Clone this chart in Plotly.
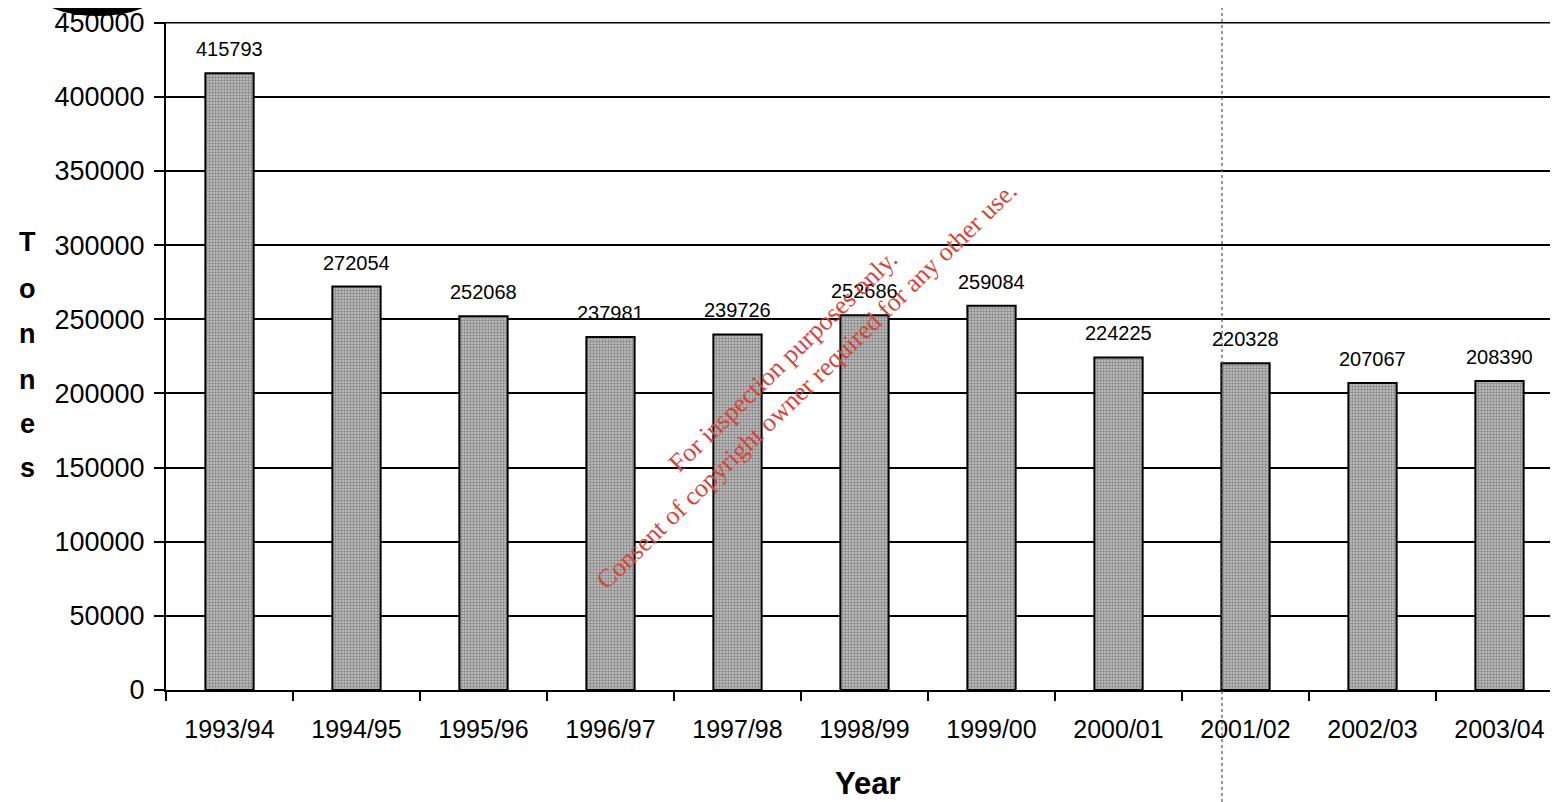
import plotly.graph_objects as go

years = ["1993/94", "1994/95", "1995/96", "1996/97", "1997/98", "1998/99",
         "1999/00", "2000/01", "2001/02", "2002/03", "2003/04"]
tonnes = [415793, 272054, 252068, 237981, 239726, 252686,
          259084, 224225, 220328, 207067, 208390]
y_ticks = [0, 50000, 100000, 150000, 200000, 250000, 300000, 350000, 400000, 450000]
y_title_letters = ["T", "o", "n", "n", "e", "s"]

OFF = 8  # page body margin
W, H = 1558, 794
# plot area in page pixels: x 166..1563, y 22..690
L = 166 - OFF
R = (W + OFF) - 1563
T = 22 - OFF
B = H - (690 - OFF)
pw, ph = W - L - R, H - T - B

def px_to_paper(px, py):
    fx, fy = px - OFF, py - OFF
    return (fx - L) / pw, (H - B - fy) / ph

fig = go.Figure()
fig.add_trace(go.Bar(
    x=years, y=tonnes, width=0.38,
    marker=dict(
        color="#a8a8a8",
        line=dict(color="black", width=2),
        pattern=dict(shape=".", fgcolor="#4a4a4a", bgcolor="#c4c4c4", size=3, solidity=0.5),
    ),
    showlegend=False,
))

annotations = []
for yr, v in zip(years, tonnes):
    annotations.append(dict(x=yr, y=v, text=str(v), showarrow=False, yshift=24,
                            xanchor="center", yanchor="middle",
                            font=dict(family="Liberation Sans", size=20, color="black")))

letter_py = [242, 289, 334, 380, 424, 468]
for ch, py in zip(y_title_letters, letter_py):
    xp, yp = px_to_paper(27, py)
    annotations.append(dict(xref="paper", yref="paper", x=xp, y=yp, text=ch, showarrow=False,
                            xanchor="center", yanchor="middle",
                            font=dict(family="Liberation Sans", size=27, color="black", weight="bold")))

wx, wy = px_to_paper(795, 374)
annotations.append(dict(xref="paper", yref="paper", x=wx, y=wy, showarrow=False,
                        xanchor="center", yanchor="middle",
                        text="For inspection purposes only.<br>Consent of copyright owner required for any other use.",
                        textangle=-44, align="center",
                        font=dict(family="Liberation Serif", size=26, color="#d6453a")))

xx, xy = px_to_paper(868, 783)
annotations.append(dict(xref="paper", yref="paper", x=xx, y=xy, text="Year", showarrow=False,
                        xanchor="center", yanchor="middle",
                        font=dict(family="Liberation Sans", size=31, color="black", weight="bold")))

shapes = []
# top gridline (plotly drops the grid line at the very edge of the plot)
shapes.append(dict(type="line", xref="paper", yref="y", x0=0, x1=1,
                   y0=y_ticks[-1], y1=y_ticks[-1],
                   line=dict(color="black", width=1.6), layer="below"))
x0, _ = px_to_paper(1222, 0)
shapes.append(dict(type="line", xref="paper", yref="paper", x0=x0, x1=x0,
                   y0=px_to_paper(0, 802)[1], y1=px_to_paper(0, 0)[1],
                   line=dict(color="#555555", width=1.2, dash="dot"), layer="above"))
ex0, ey0 = px_to_paper(35, 16)
ex1, ey1 = px_to_paper(160, -36)
shapes.append(dict(type="circle", xref="paper", yref="paper", x0=ex0, x1=ex1, y0=ey0, y1=ey1,
                   fillcolor="black", line=dict(width=0), layer="above"))

fig.update_layout(
    width=W, height=H,
    margin=dict(l=L, r=R, t=T, b=B, pad=0, autoexpand=False),
    paper_bgcolor="white", plot_bgcolor="white",
    font=dict(family="Liberation Sans", color="black"),
    annotations=annotations,
    shapes=shapes,
    xaxis=dict(
        range=[-0.5, 10.5],
        showgrid=False, showline=True, linecolor="black", linewidth=2,
        ticks="outside", tickson="boundaries", ticklen=9, tickwidth=2, tickcolor="black",
        tickfont=dict(family="Liberation Sans", size=25, color="black"),
        ticklabelstandoff=16,
        zeroline=False,
    ),
    yaxis=dict(
        range=[0, 450400], tickvals=y_ticks, ticktext=[str(t) for t in y_ticks],
        showgrid=True, gridcolor="black", gridwidth=1.6,
        showline=True, linecolor="black", linewidth=2,
        ticks="outside", ticklen=10, tickwidth=2, tickcolor="black",
        tickfont=dict(family="Liberation Sans", size=27, color="black"),
        ticklabelstandoff=4,
        zeroline=False,
    ),
)

fig.write_html("out.html")
